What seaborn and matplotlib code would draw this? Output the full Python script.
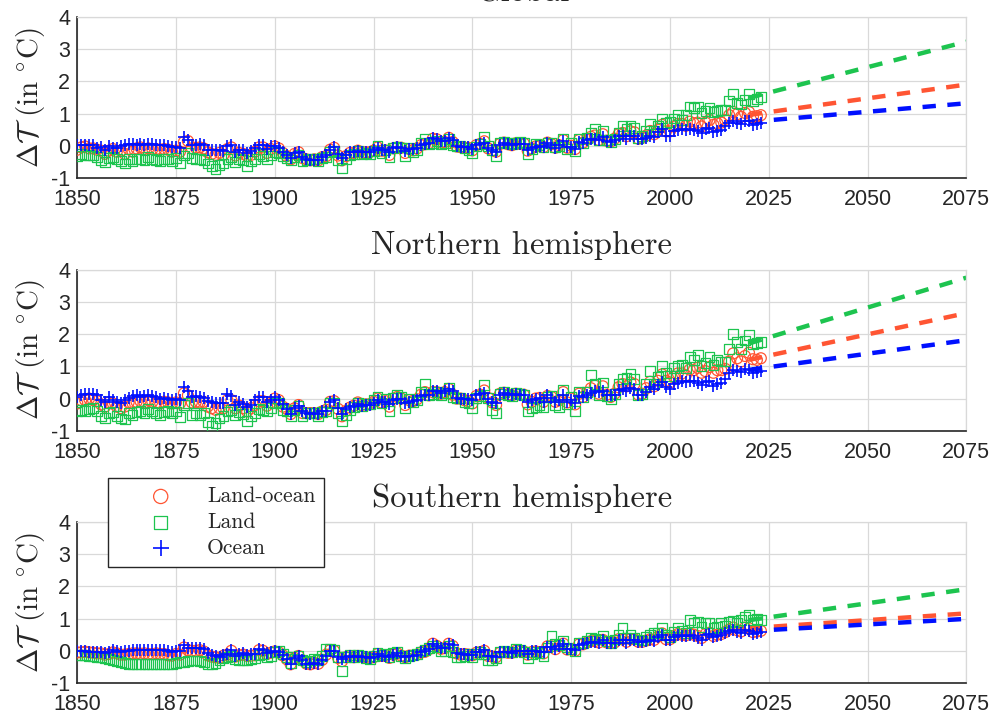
import warnings
warnings.filterwarnings("ignore")

import matplotlib.pyplot as plt
import seaborn as sns

years = list(range(1850, 2024))

# Global
glob_lo = [
    -0.12, -0.05, -0.02, -0.08, -0.08, -0.12, -0.15, -0.25, -0.15, -0.10,
    -0.18, -0.15, -0.25, -0.10, -0.18, -0.08, -0.05, -0.10, -0.08, -0.10,
    -0.10, -0.12, -0.10, -0.12, -0.18, -0.15, -0.18, 0.12, 0.15, -0.08,
    -0.06, -0.05, -0.08, -0.20, -0.25, -0.28, -0.22, -0.28, -0.10, -0.05,
    -0.30, -0.22, -0.25, -0.32, -0.28, -0.18, -0.05, -0.05, -0.22, -0.10,
    -0.02, -0.08, -0.22, -0.32, -0.42, -0.25, -0.20, -0.38, -0.42, -0.45,
    -0.42, -0.45, -0.35, -0.32, -0.12, -0.06, -0.30, -0.45, -0.32, -0.22,
    -0.22, -0.15, -0.22, -0.20, -0.20, -0.15, -0.05, -0.15, -0.14, -0.28,
    -0.08, -0.05, -0.06, -0.22, -0.10, -0.14, -0.08, 0.02, 0.05, 0.08,
    0.22, 0.20, 0.10, 0.12, 0.25, 0.12, -0.02, -0.04, -0.06, -0.06,
    -0.14, 0.02, 0.06, 0.14, -0.08, -0.14, -0.18, 0.06, 0.10, 0.05,
    0.02, 0.08, 0.06, 0.08, -0.15, -0.08, -0.02, 0.00, -0.04, 0.10,
    0.05, -0.06, 0.02, 0.18, -0.06, 0.00, -0.10, 0.18, 0.10, 0.20,
    0.28, 0.32, 0.18, 0.36, 0.16, 0.14, 0.22, 0.36, 0.40, 0.30,
    0.45, 0.42, 0.22, 0.25, 0.32, 0.46, 0.36, 0.50, 0.65, 0.45,
    0.45, 0.60, 0.68, 0.68, 0.62, 0.75, 0.70, 0.72, 0.60, 0.72,
    0.80, 0.65, 0.70, 0.72, 0.80, 0.95, 1.05, 0.98, 0.90, 1.02,
    1.05, 0.90, 0.92, 0.95,
]
glob_land = [
    -0.32, -0.25, -0.30, -0.28, -0.30, -0.35, -0.45, -0.50, -0.38, -0.35,
    -0.42, -0.48, -0.55, -0.40, -0.48, -0.42, -0.40, -0.45, -0.35, -0.40,
    -0.45, -0.48, -0.42, -0.40, -0.48, -0.38, -0.52, -0.30, -0.22, -0.38,
    -0.40, -0.42, -0.45, -0.55, -0.62, -0.72, -0.60, -0.55, -0.42, -0.35,
    -0.50, -0.40, -0.45, -0.62, -0.48, -0.42, -0.25, -0.32, -0.40, -0.30,
    -0.20, -0.22, -0.32, -0.38, -0.45, -0.35, -0.28, -0.48, -0.45, -0.42,
    -0.40, -0.48, -0.38, -0.35, -0.20, -0.15, -0.45, -0.68, -0.40, -0.28,
    -0.25, -0.15, -0.25, -0.22, -0.25, -0.15, 0.00, -0.22, -0.12, -0.35,
    -0.08, -0.02, -0.05, -0.32, -0.08, -0.20, -0.12, 0.08, 0.20, 0.05,
    0.10, 0.15, 0.05, 0.10, 0.20, 0.02, -0.02, 0.00, -0.08, -0.12,
    -0.22, -0.02, 0.05, 0.28, 0.00, -0.12, -0.32, 0.08, 0.12, 0.08,
    0.05, 0.10, 0.12, 0.08, -0.25, -0.10, 0.05, 0.02, -0.05, 0.10,
    0.08, -0.05, -0.02, 0.22, -0.10, 0.10, -0.15, 0.22, 0.10, 0.25,
    0.40, 0.52, 0.18, 0.45, 0.18, 0.12, 0.22, 0.40, 0.62, 0.52,
    0.62, 0.55, 0.25, 0.30, 0.45, 0.68, 0.45, 0.62, 0.85, 0.72,
    0.75, 0.85, 0.95, 0.80, 0.95, 1.22, 1.18, 1.22, 1.02, 1.08,
    1.18, 1.05, 1.08, 1.10, 1.12, 1.38, 1.62, 1.32, 1.28, 1.42,
    1.62, 1.40, 1.45, 1.52,
]
glob_ocean = [
    0.02, 0.04, 0.04, 0.03, 0.03, -0.06, -0.03, -0.12, 0.00, -0.06,
    -0.08, -0.02, 0.04, 0.06, 0.07, 0.03, 0.05, 0.04, 0.06, 0.05,
    0.03, 0.02, 0.04, -0.02, -0.04, -0.03, -0.06, 0.27, 0.18, 0.02,
    0.03, 0.05, 0.03, -0.12, -0.12, -0.14, -0.12, -0.15, 0.00, 0.02,
    -0.20, -0.12, -0.14, -0.22, -0.16, -0.08, 0.03, 0.02, -0.10, -0.02,
    0.00, -0.08, -0.18, -0.30, -0.38, -0.22, -0.18, -0.35, -0.42, -0.45,
    -0.43, -0.45, -0.36, -0.30, -0.12, -0.05, -0.25, -0.38, -0.28, -0.20,
    -0.20, -0.15, -0.20, -0.18, -0.18, -0.14, -0.06, -0.12, -0.12, -0.20,
    -0.06, -0.03, -0.06, -0.15, -0.10, -0.10, -0.06, 0.04, 0.07, 0.10,
    0.25, 0.20, 0.14, 0.14, 0.25, 0.17, -0.02, -0.04, -0.05, -0.05,
    -0.10, 0.02, 0.05, 0.10, -0.08, -0.14, -0.18, 0.03, 0.08, 0.05,
    0.03, 0.06, 0.05, 0.06, -0.12, -0.08, -0.03, -0.02, -0.05, 0.10,
    0.03, -0.08, 0.03, 0.15, -0.05, -0.03, -0.10, 0.12, 0.10, 0.18,
    0.22, 0.22, 0.17, 0.28, 0.15, 0.12, 0.17, 0.30, 0.30, 0.22,
    0.32, 0.32, 0.20, 0.20, 0.25, 0.32, 0.28, 0.42, 0.52, 0.32,
    0.30, 0.45, 0.48, 0.52, 0.50, 0.52, 0.50, 0.45, 0.40, 0.52,
    0.55, 0.42, 0.46, 0.50, 0.60, 0.72, 0.78, 0.72, 0.68, 0.78,
    0.76, 0.65, 0.67, 0.72,
]

# Northern hemisphere
nh_lo = [
    -0.15, -0.05, -0.05, 0.00, -0.05, -0.08, -0.18, -0.25, -0.12, -0.15,
    -0.25, -0.30, -0.25, -0.12, -0.15, -0.10, -0.08, -0.12, -0.05, -0.10,
    -0.12, -0.15, -0.10, -0.12, -0.15, -0.12, -0.15, 0.16, 0.10, -0.12,
    -0.10, -0.12, -0.10, -0.25, -0.30, -0.35, -0.30, -0.30, -0.05, -0.05,
    -0.30, -0.22, -0.30, -0.40, -0.30, -0.20, -0.08, -0.08, -0.22, -0.12,
    0.00, -0.05, -0.25, -0.32, -0.48, -0.30, -0.20, -0.45, -0.45, -0.45,
    -0.45, -0.48, -0.40, -0.35, -0.10, -0.08, -0.32, -0.55, -0.38, -0.28,
    -0.22, -0.12, -0.20, -0.18, -0.18, -0.10, 0.00, -0.12, -0.08, -0.25,
    0.00, 0.05, 0.00, -0.20, -0.05, -0.08, -0.02, 0.12, 0.20, 0.10,
    0.20, 0.20, 0.15, 0.20, 0.30, 0.12, 0.00, 0.00, -0.05, -0.08,
    -0.15, 0.08, 0.12, 0.25, 0.02, -0.12, -0.20, 0.15, 0.18, 0.12,
    0.10, 0.15, 0.12, 0.12, -0.18, -0.10, 0.00, 0.02, -0.10, 0.08,
    0.05, -0.10, -0.05, 0.20, -0.12, 0.00, -0.18, 0.15, 0.05, 0.18,
    0.32, 0.40, 0.15, 0.38, 0.12, 0.05, 0.15, 0.35, 0.45, 0.38,
    0.50, 0.45, 0.12, 0.15, 0.32, 0.52, 0.38, 0.55, 0.75, 0.55,
    0.50, 0.68, 0.78, 0.78, 0.72, 0.90, 0.88, 0.95, 0.80, 0.85,
    0.98, 0.80, 0.88, 0.88, 0.92, 1.15, 1.40, 1.25, 1.15, 1.32,
    1.42, 1.22, 1.20, 1.25,
]
nh_land = [
    -0.40, -0.35, -0.38, -0.32, -0.30, -0.38, -0.55, -0.60, -0.45, -0.42,
    -0.55, -0.62, -0.65, -0.45, -0.50, -0.42, -0.38, -0.45, -0.32, -0.40,
    -0.45, -0.50, -0.42, -0.38, -0.45, -0.40, -0.58, -0.20, -0.15, -0.50,
    -0.45, -0.50, -0.45, -0.72, -0.85, -0.75, -0.62, -0.55, -0.40, -0.35,
    -0.50, -0.42, -0.48, -0.70, -0.55, -0.45, -0.32, -0.35, -0.40, -0.30,
    -0.15, -0.12, -0.35, -0.40, -0.55, -0.35, -0.22, -0.55, -0.45, -0.45,
    -0.45, -0.55, -0.42, -0.40, -0.15, -0.12, -0.45, -0.70, -0.50, -0.35,
    -0.25, -0.12, -0.22, -0.18, -0.18, -0.05, 0.05, -0.15, -0.02, -0.38,
    0.02, 0.10, 0.05, -0.30, 0.00, -0.10, -0.05, 0.20, 0.45, 0.12,
    0.15, 0.20, 0.12, 0.18, 0.32, 0.05, 0.00, 0.02, -0.10, -0.15,
    -0.30, 0.02, 0.08, 0.42, 0.02, -0.35, -0.45, 0.15, 0.20, 0.10,
    0.08, 0.18, 0.15, 0.12, -0.40, -0.30, -0.25, -0.20, -0.25, 0.05,
    0.08, -0.20, -0.25, 0.27, -0.18, 0.05, -0.38, 0.20, 0.05, 0.20,
    0.73, 0.45, 0.12, 0.50, 0.08, -0.02, 0.15, 0.45, 0.60, 0.65,
    0.75, 0.60, 0.10, 0.15, 0.45, 0.85, 0.45, 0.68, 1.00, 0.80,
    0.70, 0.95, 1.02, 1.05, 0.95, 1.30, 1.20, 1.35, 1.00, 1.10,
    1.30, 1.05, 1.20, 1.15, 1.15, 1.55, 2.00, 1.75, 1.55, 1.80,
    1.97, 1.70, 1.72, 1.76,
]
nh_ocean = [
    0.05, 0.12, 0.14, 0.15, 0.14, 0.12, -0.05, -0.12, 0.05, -0.05,
    -0.10, -0.15, -0.05, 0.02, 0.08, 0.10, 0.06, 0.08, 0.10, 0.08,
    0.05, 0.00, 0.02, -0.02, -0.05, -0.02, -0.03, 0.37, 0.25, 0.05,
    0.08, 0.05, 0.02, -0.08, -0.12, -0.15, -0.14, -0.15, 0.15, 0.08,
    -0.20, -0.12, -0.18, -0.25, -0.20, -0.05, 0.05, 0.05, -0.12, -0.05,
    0.05, -0.05, -0.18, -0.32, -0.48, -0.30, -0.22, -0.40, -0.45, -0.48,
    -0.45, -0.48, -0.40, -0.38, -0.12, -0.05, -0.28, -0.48, -0.32, -0.25,
    -0.22, -0.18, -0.22, -0.20, -0.20, -0.15, -0.05, -0.12, -0.12, -0.18,
    -0.05, 0.00, -0.02, -0.15, -0.12, -0.08, -0.05, 0.08, 0.10, 0.12,
    0.25, 0.22, 0.18, 0.22, 0.30, 0.25, 0.02, 0.00, -0.02, -0.02,
    -0.05, 0.12, 0.14, 0.18, 0.00, -0.10, -0.15, 0.12, 0.18, 0.15,
    0.12, 0.15, 0.12, 0.12, -0.10, -0.05, 0.00, 0.02, -0.10, 0.10,
    0.02, -0.12, -0.05, 0.12, -0.10, -0.05, -0.15, 0.08, 0.05, 0.12,
    0.18, 0.22, 0.20, 0.25, 0.12, 0.10, 0.12, 0.28, 0.30, 0.25,
    0.32, 0.30, 0.12, 0.10, 0.20, 0.35, 0.30, 0.42, 0.52, 0.35,
    0.30, 0.45, 0.48, 0.55, 0.52, 0.55, 0.55, 0.48, 0.42, 0.50,
    0.55, 0.40, 0.45, 0.48, 0.62, 0.80, 0.88, 0.85, 0.82, 0.92,
    0.90, 0.80, 0.82, 0.86,
]

# Southern hemisphere
sh_lo = [
    -0.05, -0.05, -0.03, -0.05, -0.06, -0.08, -0.08, -0.12, -0.10, -0.05,
    -0.08, -0.12, -0.12, -0.10, -0.08, -0.08, -0.09, -0.08, -0.10, -0.10,
    -0.08, -0.10, -0.10, -0.14, -0.15, -0.10, -0.12, 0.10, 0.02, 0.00,
    0.00, 0.02, -0.02, -0.14, -0.18, -0.20, -0.22, -0.15, -0.12, 0.00,
    -0.18, -0.14, -0.12, -0.16, -0.15, -0.14, 0.02, 0.00, -0.10, -0.06,
    -0.02, -0.05, -0.14, -0.26, -0.42, -0.22, -0.16, -0.30, -0.40, -0.42,
    -0.38, -0.40, -0.28, -0.12, 0.02, 0.00, -0.22, -0.32, -0.20, -0.16,
    -0.20, -0.16, -0.18, -0.20, -0.22, -0.20, -0.10, -0.16, -0.16, -0.22,
    -0.12, -0.08, -0.15, -0.20, -0.15, -0.15, -0.12, -0.05, -0.03, 0.05,
    0.22, 0.15, 0.06, 0.08, 0.22, 0.15, -0.08, -0.12, -0.10, -0.12,
    -0.14, -0.06, -0.04, 0.00, -0.16, -0.18, -0.20, -0.06, -0.04, -0.06,
    -0.06, 0.00, 0.00, -0.02, -0.12, -0.04, -0.02, -0.04, -0.08, 0.14,
    0.14, 0.05, 0.15, 0.22, 0.04, 0.05, 0.00, 0.20, 0.20, 0.26,
    0.30, 0.30, 0.26, 0.34, 0.26, 0.24, 0.26, 0.36, 0.36, 0.28,
    0.36, 0.36, 0.28, 0.28, 0.32, 0.36, 0.34, 0.44, 0.54, 0.36,
    0.36, 0.46, 0.52, 0.50, 0.48, 0.54, 0.50, 0.46, 0.40, 0.52,
    0.56, 0.46, 0.50, 0.52, 0.58, 0.66, 0.72, 0.64, 0.60, 0.72,
    0.70, 0.58, 0.60, 0.62,
]
sh_land = [
    -0.12, -0.12, -0.14, -0.15, -0.16, -0.18, -0.20, -0.22, -0.25, -0.28,
    -0.32, -0.36, -0.38, -0.40, -0.41, -0.42, -0.42, -0.42, -0.42, -0.41,
    -0.40, -0.40, -0.40, -0.40, -0.40, -0.38, -0.36, -0.35, -0.32, -0.30,
    -0.30, -0.32, -0.35, -0.42, -0.40, -0.38, -0.30, -0.22, -0.20, -0.15,
    -0.25, -0.28, -0.30, -0.30, -0.25, -0.22, -0.12, -0.10, -0.20, -0.15,
    -0.05, 0.00, -0.10, -0.20, -0.38, -0.25, -0.15, -0.28, -0.35, -0.30,
    -0.25, -0.28, -0.15, 0.05, 0.07, 0.02, -0.18, -0.62, -0.18, -0.12,
    -0.18, -0.12, -0.15, -0.22, -0.25, -0.15, -0.08, -0.12, -0.10, -0.20,
    -0.08, -0.05, -0.15, -0.22, -0.15, -0.12, -0.10, -0.02, 0.02, 0.08,
    0.15, 0.10, -0.02, 0.00, 0.15, -0.05, -0.20, -0.18, -0.15, -0.10,
    -0.18, -0.10, -0.05, -0.10, -0.30, -0.28, -0.22, -0.05, 0.00, -0.02,
    -0.05, 0.05, 0.02, -0.05, -0.22, -0.10, -0.05, -0.08, -0.15, 0.10,
    0.45, 0.20, 0.18, 0.30, 0.10, 0.05, -0.02, 0.25, 0.25, 0.32,
    0.40, 0.38, 0.35, 0.45, 0.30, 0.25, 0.35, 0.48, 0.70, 0.40,
    0.48, 0.40, 0.35, 0.32, 0.42, 0.50, 0.55, 0.55, 0.72, 0.50,
    0.42, 0.60, 0.72, 0.62, 0.55, 0.95, 0.88, 0.90, 0.75, 0.85,
    0.85, 0.70, 0.75, 0.85, 0.78, 0.90, 0.92, 0.88, 0.95, 1.05,
    1.10, 0.95, 0.98, 0.95,
]
sh_ocean = [
    -0.02, -0.02, 0.00, -0.03, -0.03, -0.04, -0.03, -0.08, -0.04, 0.02,
    0.00, -0.05, -0.02, 0.00, 0.03, 0.04, 0.03, 0.04, 0.02, 0.02,
    0.03, 0.02, 0.02, -0.02, -0.05, 0.00, -0.02, 0.18, 0.10, 0.08,
    0.08, 0.10, 0.05, -0.08, -0.12, -0.15, -0.18, -0.12, -0.10, 0.02,
    -0.15, -0.10, -0.08, -0.12, -0.10, -0.10, 0.05, 0.02, -0.08, -0.05,
    0.00, -0.05, -0.12, -0.25, -0.42, -0.22, -0.15, -0.30, -0.40, -0.42,
    -0.38, -0.40, -0.28, -0.15, 0.00, 0.00, -0.20, -0.25, -0.18, -0.15,
    -0.20, -0.15, -0.18, -0.20, -0.22, -0.20, -0.10, -0.15, -0.15, -0.20,
    -0.12, -0.08, -0.15, -0.18, -0.15, -0.15, -0.12, -0.05, -0.02, 0.05,
    0.22, 0.15, 0.08, 0.10, 0.22, 0.18, -0.08, -0.10, -0.10, -0.12,
    -0.12, -0.05, -0.03, 0.02, -0.15, -0.15, -0.18, -0.05, -0.03, -0.05,
    -0.06, 0.00, 0.00, -0.02, -0.10, -0.02, 0.00, -0.03, -0.05, 0.12,
    0.12, 0.05, 0.15, 0.20, 0.05, 0.05, 0.02, 0.18, 0.20, 0.25,
    0.28, 0.28, 0.25, 0.32, 0.25, 0.24, 0.25, 0.32, 0.35, 0.25,
    0.32, 0.34, 0.28, 0.28, 0.30, 0.32, 0.30, 0.42, 0.50, 0.32,
    0.32, 0.42, 0.48, 0.45, 0.45, 0.48, 0.45, 0.40, 0.35, 0.48,
    0.52, 0.42, 0.45, 0.48, 0.55, 0.60, 0.65, 0.58, 0.55, 0.65,
    0.62, 0.52, 0.55, 0.58,
]

# Trend extrapolation (start / end values)
proj_years = [2020, 2075]
glob_proj_lo = [0.96, 1.90]
glob_proj_land = [1.49, 3.23]
glob_proj_ocean = [0.74, 1.32]
nh_proj_lo = [1.20, 2.65]
nh_proj_land = [1.71, 3.75]
nh_proj_ocean = [0.89, 1.81]
sh_proj_lo = [0.70, 1.16]
sh_proj_land = [0.95, 1.91]
sh_proj_ocean = [0.61, 0.99]

titles = ["Global", "Northern hemisphere", "Southern hemisphere"]
series_labels = ["Land-ocean", "Land", "Ocean"]

RED = "#FF5533"
GREEN = "#1DC44F"
BLUE = "#0010FF"

sns.set_theme(style="whitegrid")
plt.rcParams["font.family"] = ["Liberation Sans", "DejaVu Sans"]
plt.rcParams["mathtext.fontset"] = "cm"
plt.rcParams["axes.unicode_minus"] = False

fig = plt.figure(figsize=(9.97, 7.18), dpi=100)

panels = [
    (glob_lo, glob_land, glob_ocean, glob_proj_lo, glob_proj_land, glob_proj_ocean),
    (nh_lo, nh_land, nh_ocean, nh_proj_lo, nh_proj_land, nh_proj_ocean),
    (sh_lo, sh_land, sh_ocean, sh_proj_lo, sh_proj_land, sh_proj_ocean),
]
bottoms = [0.752, 0.400, 0.0487]

axes = []
for title, bottom, (lo, land, ocean, p_lo, p_land, p_ocean) in zip(titles, bottoms, panels):
    ax = fig.add_axes([0.0775, bottom, 0.8917, 0.2245])
    axes.append(ax)

    sns.scatterplot(x=years, y=lo, ax=ax, marker="o", s=62, facecolors="none",
                    edgecolor=RED, linewidth=0.9, label=series_labels[0], zorder=3)
    sns.scatterplot(x=years, y=land, ax=ax, marker="s", s=50, facecolors="none",
                    edgecolor=GREEN, linewidth=0.9, label=series_labels[1], zorder=3)
    sns.scatterplot(x=years, y=ocean, ax=ax, marker="+", s=75, color=BLUE,
                    linewidth=1.2, label=series_labels[2], zorder=4)

    for vals, c in [(p_land, GREEN), (p_lo, RED), (p_ocean, BLUE)]:
        sns.lineplot(x=proj_years, y=vals, ax=ax, color=c, linewidth=3.2, zorder=2)
        ax.lines[-1].set_dashes([3.0, 2.6])

    if ax.get_legend() is not None:
        ax.get_legend().remove()

    ax.set_xlim(1850, 2075)
    ax.set_ylim(-1, 4)
    ax.set_xticks(range(1850, 2076, 25))
    ax.set_yticks(range(-1, 5))
    ax.grid(True, color="0.85", linewidth=0.9)
    ax.set_axisbelow(True)
    ax.tick_params(direction="in", length=5, width=1.0, color="0.15",
                   labelcolor="0.15", labelsize=15.5)
    ax.tick_params(axis="x", pad=8)
    ax.tick_params(axis="y", pad=5)
    for side in ["left", "bottom"]:
        ax.spines[side].set_color("0.15")
        ax.spines[side].set_linewidth(1.2)
    for side in ["top", "right"]:
        ax.spines[side].set_color("0.85")
        ax.spines[side].set_linewidth(0.9)

    ax.set_xlabel("")
    ax.set_ylabel(r"$\Delta\mathcal{T}\;\,\mathrm{(in\ ^{\circ}C)}$", fontsize=21, labelpad=3)
    ax.set_title(title, fontfamily="cmr10", fontsize=23.5, pad=11)

handles, labels = axes[2].get_legend_handles_labels()
leg = fig.legend(handles[:3], labels[:3], loc="upper left",
                 bbox_to_anchor=(0.1083, 0.3343), borderaxespad=0,
                 prop={"family": "cmr10", "size": 15.5},
                 frameon=True, fancybox=False, framealpha=1, edgecolor="0.15",
                 handlelength=4.1, handletextpad=0.1, labelspacing=0.3,
                 borderpad=0.4, scatterpoints=1, markerscale=1.3)
leg.get_frame().set_linewidth(1.0)

fig.savefig("out.png", dpi=100)
